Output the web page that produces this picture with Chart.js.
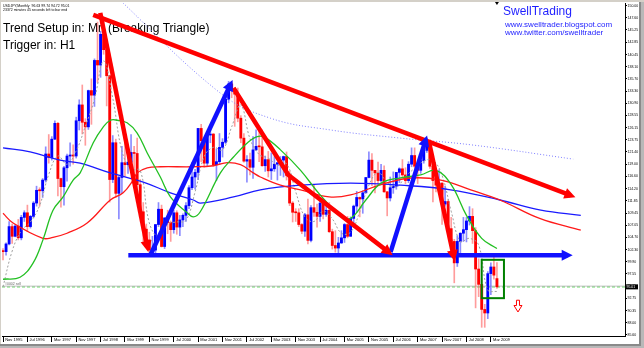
<!DOCTYPE html>
<html>
<head>
<meta charset="utf-8">
<script src="https://cdn.jsdelivr.net/npm/chart.js@4.4.1/dist/chart.umd.min.js"></script>
<style>
  html, body { margin: 0; padding: 0; background: #fff; }
</style>
</head>
<body>
<canvas id="chart" width="644" height="348"></canvas>
<script>
// USDJPY monthly, index 0 = Nov 1995, index 162 = May 2009
const opens = [102.1,101.9,103.4,106.8,104.9,106.9,104.6,108.6,109.5,106.8,108.8,111.4,113.9,113.8,115.9,121.0,120.3,123.9,127.0,116.2,
  114.6,118.3,120.6,120.8,120.6,127.5,130.6,127.2,126.3,133.4,132.5,139.3,138.4,144.4,141.4,136.3,116.0,123.2,113.3,116.4,
  119.3,118.9,119.4,121.3,121.1,115.0,109.7,106.3,104.2,102.2,102.2,107.2,110.2,102.9,108.5,107.6,106.2,109.5,106.7,108.1,
  109.0,110.9,114.4,116.5,117.4,126.0,123.6,119.2,124.7,124.9,118.9,119.5,122.3,123.3,131.7,134.7,133.5,132.7,128.0,124.1,
  119.6,119.9,118.4,121.8,122.5,122.4,118.7,119.9,117.7,118.1,119.0,119.3,119.8,120.5,116.8,111.4,109.6,109.5,107.2,105.9,
  109.1,104.1,110.5,109.6,108.8,111.4,109.2,110.0,105.8,103.1,102.6,103.6,104.6,107.2,104.9,108.4,110.8,112.5,112.2,113.4,
  116.4,119.8,117.8,117.3,115.8,117.8,113.6,112.4,114.4,114.7,117.4,118.1,116.9,115.8,119.0,120.7,118.6,117.8,119.7,121.7,
  123.2,118.6,115.8,114.9,115.3,111.2,111.7,106.4,103.9,99.7,103.9,105.5,106.2,107.9,108.8,106.0,98.5,95.5,90.6,89.9,
  97.6,98.9,96.63];
const highs = [102.5,103.6,107.8,107.3,107.2,108.2,109.0,109.9,111.0,109.0,111.7,114.7,114.4,116.2,122.4,124.8,124.4,127.5,127.2,116.3,
  118.6,121.0,123.2,122.8,128.2,131.6,134.5,127.9,133.5,135.7,139.6,146.8,145.0,147.6,142.4,136.4,124.6,123.9,116.7,122.5,
  123.6,121.0,124.8,122.5,124.1,116.0,111.5,107.3,105.7,104.9,107.2,111.5,111.0,108.5,110.0,107.9,110.0,109.9,109.0,109.3,
  111.5,114.8,119.3,118.0,126.0,126.8,123.9,125.2,126.0,125.0,122.0,125.0,124.0,131.8,135.2,135.1,133.9,133.9,128.5,125.0,
  120.7,121.2,124.4,125.7,125.5,125.7,120.6,121.5,121.2,120.5,119.3,120.5,120.6,121.4,117.6,111.7,110.3,110.3,107.4,109.4,
  112.2,110.9,114.9,111.2,112.4,111.7,111.3,111.5,106.3,106.0,104.7,106.0,107.4,108.8,108.7,111.0,113.7,112.6,113.8,116.4,
  121.4,121.1,117.8,119.4,119.0,118.7,113.7,116.5,117.5,117.4,118.3,119.9,118.3,119.5,122.2,122.2,119.1,120.0,122.2,124.1,
  123.7,119.4,117.3,117.9,115.4,114.7,112.1,108.6,104.3,105.0,105.6,108.6,108.6,110.7,110.3,106.6,100.5,96.6,91.6,98.0,
  99.7,101.4,99.74];
const lows = [100.3,101.2,103.2,103.5,104.8,104.2,104.2,107.8,105.8,106.5,108.5,110.8,110.8,112.5,115.5,119.2,119.8,123.8,112.8,110.6,
  111.0,115.7,118.6,119.0,120.2,125.7,124.9,122.7,125.8,126.8,130.3,135.0,136.0,140.5,130.4,111.6,115.4,112.5,108.3,113.3,
  116.6,117.2,119.0,117.2,113.7,108.9,103.7,103.9,101.3,101.3,101.5,106.8,102.8,102.5,105.4,103.9,105.5,105.3,105.0,106.8,
  107.8,110.3,114.0,114.1,116.0,119.5,118.4,118.6,123.2,118.6,115.8,119.0,120.4,123.0,131.0,132.0,126.4,127.3,123.2,119.4,
  115.5,116.9,116.2,121.7,119.5,118.6,117.6,116.5,116.0,117.6,115.9,116.8,116.5,115.9,110.9,107.7,107.8,106.8,105.4,104.9,
  103.4,103.8,108.8,106.7,107.8,108.3,108.8,105.6,102.4,101.8,101.7,103.5,103.7,104.6,104.9,106.6,109.6,108.7,109.4,113.4,
  116.3,114.8,113.4,115.0,115.5,113.5,108.9,111.8,113.3,114.1,115.4,116.6,115.2,115.4,118.5,118.3,115.2,117.2,119.2,121.3,
  118.2,111.6,113.6,113.9,107.2,110.8,104.9,103.8,95.8,99.0,101.4,103.9,103.8,107.1,103.5,90.9,93.1,87.1,87.1,88.8,
  93.5,96.5,94.72];
const closes = [101.9,103.4,106.8,104.9,106.9,104.6,108.6,109.5,106.8,108.8,111.4,113.9,113.8,115.9,121.0,120.3,123.9,127.0,116.2,114.6,
  118.3,120.6,120.8,120.6,127.5,130.6,127.2,126.3,133.4,132.5,139.3,138.4,144.4,141.4,136.3,116.0,123.2,113.3,116.4,119.3,
  118.9,119.4,121.3,121.1,115.0,109.7,106.3,104.2,102.2,102.2,107.2,110.2,102.9,108.5,107.6,106.2,109.5,106.7,108.1,109.0,
  110.9,114.4,116.5,117.4,126.0,123.6,119.2,124.7,124.9,118.9,119.5,122.3,123.3,131.7,134.7,133.5,132.7,128.0,124.1,119.6,
  119.9,118.4,121.8,122.5,122.4,118.7,119.9,117.7,118.1,119.0,119.3,119.8,120.5,116.8,111.4,109.6,109.5,107.2,105.9,109.1,
  104.1,110.5,109.6,108.8,111.4,109.2,110.0,105.8,103.1,102.6,103.6,104.6,107.2,104.9,108.4,110.8,112.5,112.2,113.4,116.4,
  119.8,117.8,117.3,115.8,117.8,113.6,112.4,114.4,114.7,117.4,118.1,116.9,115.8,119.0,120.7,118.6,117.8,119.7,121.7,123.2,
  118.6,115.8,114.9,115.3,111.2,111.7,106.4,103.9,99.7,103.9,105.5,106.2,107.9,108.8,106.0,98.5,95.5,90.6,89.9,97.6,
  98.9,97.3,95.01];

const tickPos = [0,8,16,24,32,40,48,56,64,72,80,88,96,104,112,120,128,136,144,152,160];
const tickLabels = ['Nov 1995','Jul 1996','Mar 1997','Nov 1997','Jul 1998','Mar 1999','Nov 1999','Jul 2000','Mar 2001','Nov 2001',
  'Jul 2002','Mar 2003','Nov 2003','Jul 2004','Mar 2005','Nov 2005','Jul 2006','Mar 2007','Nov 2007','Jul 2008','Mar 2009'];
const priceTicks = [150.00,147.60,145.25,142.85,140.45,138.10,135.70,133.30,130.90,128.55,126.15,123.75,121.40,119.00,
  116.60,114.20,111.85,109.45,107.05,104.70,102.30,99.90,97.55,95.15,92.75,90.35,88.00,85.60];

// indicator lines: [month index, price]
const greyMA = [[0,95],[3,102],[6,106],[9,107.7],[12,110.9],[15,117],[18,120.6],[21,119],[24,121.6],[27,126.4],[30,131.7],
  [33,139.2],[36,131.9],[39,121.6],[42,118],[45,117.8],[48,107.5],[51,104.8],[54,107.3],[57,107.7],[60,108],[63,113.6],
  [66,120.5],[69,122.3],[72,121.8],[75,126.3],[78,130.6],[81,124],[84,120.9],[87,120.2],[90,118.8],[93,119.1],[96,113.6],
  [99,108.7],[102,107.8],[105,109.8],[108,108.3],[111,105.5],[114,105.7],[117,109.7],[120,114.9],[123,117.4],[126,115.4],
  [129,114.5],[132,116.6],[135,118.2],[138,119.6],[141,119.8],[144,116.8],[147,109.8],[150,103.9],[153,104.5],[156,103.2],
  [159,94.4],[162,94.1]];
const greenMA = [[0,96.5],[5.6,96.9],[9.9,99.7],[13.1,104.2],[16.4,110],[19.7,112.6],[23,115.9],[25.3,117.3],[29.6,123.2],
  [32.9,126.3],[35.2,127.6],[37.5,127.6],[40.7,127.1],[44,125.1],[47.3,121.2],[51.6,116.5],[54.9,112.6],[60.4,109.5],
  [62.4,108.7],[64.7,109.7],[71.3,117.3],[75.6,120.4],[80.2,123.2],[83.4,124.4],[86,124.2],[91,121.8],[97.6,117.8],
  [104,113],[110.7,109],[114,108.4],[119,112],[124,115.3],[130,116.3],[137,116.9],[142,117.8],[147,115],[152,109],
  [157,104.5],[162,102.5]];
const redMA = [[0,109.4],[3.3,107.5],[13.1,104.5],[16.4,104.7],[21,105.5],[27.6,107.5],[35.2,112],[39.4,113.4],[42.7,115.9],
  [44,117.3],[47.3,118.3],[51.6,118.5],[62.4,118.5],[69,118.7],[73.6,119.3],[77.9,118.9],[82.1,117.3],[84.4,116.5],
  [91,114.9],[97.6,114],[107,112.6],[114,113],[124,115],[133.7,116.3],[143.6,115.9],[153.4,114],[163,112],[176,108.4],
  [189.5,106.1]];
const blueMA = [[0,122.2],[8.9,121.4],[18.7,119.8],[25.3,119.2],[35.2,117.3],[46,115.5],[54.9,113.4],[62.4,112],[64.7,111.4],
  [75.6,112.6],[84.4,114],[97.6,114.9],[114,115.3],[130.4,114.9],[146.8,114],[163,112],[176.4,110],[189.5,109]];
const longMA = [[35,153],[71.3,132.9],[87.7,128],[107.4,125.7],[130.4,124.1],[153.4,122.8],[187,120]];

// drawn pattern: [month index, price]
const redTop = [[29.6,148.2],[186.2,112.9]];
const redLeg1 = [[31.9,148.6],[47.3,102.8]];
const blueLeg1 = [[48.3,101.2],[74.6,134.6]];
const redLeg2 = [[75.6,133.9],[93.6,116.9],[126.5,101.8]];
const blueLeg2 = [[127.1,101.8],[138.6,123.7]];
const redLeg3 = [[139.6,123.7],[147.8,101.0]];
const blueBase = [[41.1,101.2],[185.2,101.2]];
const boxRange = [157, 164.3, 100.3, 92.8];
const sellArrow = [168.9, 92.4, 90.1];
const bidPrice = 95.01;
const orderPrice = 95.15;

const BULL = '#0000ff', BEAR = '#ff0000';
const idx = closes.map((c, i) => i);
const pts = a => a.map(([x, y]) => ({ x, y }));
const xMin = -0.33, xMax = 204.0;

function arrowSet(data, color) {
  return { type: 'line', data: pts(data), borderColor: color, borderWidth: 4.5, pointRadius: 0,
    tension: 0, borderJoinStyle: 'round', arrow: true, order: 0 };
}
function maSet(data, color, width, dash) {
  return { type: 'line', data: pts(data), borderColor: color, borderWidth: width, borderDash: dash || [],
    pointRadius: 0, tension: 0.4, order: 2 };
}

const decor = {
  id: 'decor',
  beforeDraw(chart) {
    const { ctx } = chart;
    ctx.save();
    ctx.fillStyle = '#fff';
    ctx.fillRect(0, 0, 644, 348);
    ctx.fillStyle = '#d4d0c8';
    ctx.fillRect(0, 0, 644, 2);
    ctx.fillRect(0, 0, 1, 348);
    ctx.fillStyle = '#8a8a8a';
    ctx.fillRect(639, 2, 5, 346);
    ctx.fillRect(0, 344, 644, 4);
    ctx.fillStyle = '#b8b8b8';
    ctx.fillRect(641, 2, 3, 346);
    ctx.fillRect(0, 346, 644, 2);
    ctx.restore();
  },
  beforeDatasetsDraw(chart) {
    const { ctx } = chart;
    ctx.save();
    ctx.fillStyle = '#000';
    ctx.font = '3.5px "Liberation Sans"';
    ctx.fillText('USDJPY,Monthly  96.63 99.74 94.72 95.01', 3, 7);
    ctx.fillText('23372 minutes 45 seconds left to bar end', 3, 11);
    ctx.font = '12px "Liberation Sans"';
    ctx.fillText('Trend Setup in: Mn (Breaking Triangle)', 3, 31.7);
    ctx.fillText('Trigger in: H1', 3, 49.3);
    ctx.fillStyle = '#1e1eff';
    ctx.fillText('SwellTrading', 503, 14.6);
    ctx.font = '8px "Liberation Sans"';
    ctx.fillText('www.swelltrader.blogspot.com', 505, 26.5);
    ctx.fillText('www.twitter.com/swelltrader', 505, 34.7);
    const y = chart.scales.y.getPixelForValue(orderPrice);
    ctx.fillStyle = '#666';
    ctx.font = '3.5px "Liberation Sans"';
    ctx.fillText('#0002 sell', 5, y - 1);
    ctx.restore();
  },
  afterDatasetsDraw(chart) {
    const { ctx, scales: { x, y } } = chart;
    ctx.save();
    chart.data.datasets.forEach((ds, k) => {
      if (!ds.arrow) return;
      const el = chart.getDatasetMeta(k).data;
      const a = el[el.length - 2], b = el[el.length - 1];
      ctx.save();
      ctx.translate(b.x, b.y);
      ctx.rotate(Math.atan2(b.y - a.y, b.x - a.x));
      ctx.fillStyle = ds.borderColor;
      ctx.beginPath();
      ctx.moveTo(5, 0); ctx.lineTo(-6, -5.5); ctx.lineTo(-6, 5.5);
      ctx.closePath(); ctx.fill();
      ctx.restore();
    });
    // setup box
    const [i0, i1, p0, p1] = boxRange;
    ctx.strokeStyle = '#008000';
    ctx.lineWidth = 2;
    ctx.strokeRect(x.getPixelForValue(i0), y.getPixelForValue(p0),
      x.getPixelForValue(i1) - x.getPixelForValue(i0), y.getPixelForValue(p1) - y.getPixelForValue(p0));
    // hollow sell arrow
    const ax = x.getPixelForValue(sellArrow[0]);
    const t = y.getPixelForValue(sellArrow[1]), bt = y.getPixelForValue(sellArrow[2]);
    const m = t + (bt - t) * 0.45;
    ctx.strokeStyle = '#ff0000';
    ctx.lineWidth = 1;
    ctx.beginPath();
    ctx.moveTo(ax - 1.5, t); ctx.lineTo(ax + 1.5, t); ctx.lineTo(ax + 1.5, m); ctx.lineTo(ax + 4, m);
    ctx.lineTo(ax, bt); ctx.lineTo(ax - 4, m); ctx.lineTo(ax - 1.5, m); ctx.closePath();
    ctx.stroke();
    // last bar marker
    const lx = x.getPixelForValue(idx[idx.length - 1]);
    ctx.fillStyle = '#000';
    ctx.beginPath();
    ctx.moveTo(lx - 2, 2); ctx.lineTo(lx + 2, 2); ctx.lineTo(lx, 5); ctx.closePath(); ctx.fill();
    ctx.restore();
  },
  afterDraw(chart) {
    const { ctx, scales: { y } } = chart;
    const py = y.getPixelForValue(bidPrice);
    ctx.save();
    ctx.fillStyle = '#000';
    ctx.fillRect(625, py - 2.5, 13, 5);
    ctx.fillStyle = '#fff';
    ctx.font = '3.5px "Liberation Sans"';
    ctx.textBaseline = 'middle';
    ctx.fillText(bidPrice.toFixed(2), 626.5, py);
    ctx.restore();
  }
};

new Chart(document.getElementById('chart'), {
  type: 'bar',
  data: {
    datasets: [
      arrowSet(redTop, '#ff0000'),
      arrowSet(redLeg1, '#ff0000'),
      arrowSet(blueLeg1, '#1010ff'),
      arrowSet(redLeg2, '#ff0000'),
      arrowSet(blueLeg2, '#1010ff'),
      arrowSet(redLeg3, '#ff0000'),
      arrowSet(blueBase, '#1010ff'),
      maSet(greenMA, '#22c022', 1.3),
      maSet(redMA, '#ff1a1a', 1.3),
      maSet(blueMA, '#1a1aff', 1.3),
      maSet(greyMA, '#a0a0a0', 1, [2, 2]),
      maSet(longMA, '#8080ff', 1, [1, 2]),
      { type: 'bar', data: idx.map(i => ({ x: i, y: [opens[i], closes[i]] })),
        backgroundColor: idx.map(i => closes[i] >= opens[i] ? BULL : BEAR),
        barThickness: 2.2, minBarLength: 1, grouped: false, order: 3 },
      { type: 'bar', data: idx.map(i => ({ x: i, y: [lows[i], highs[i]] })),
        backgroundColor: idx.map(i => closes[i] >= opens[i] ? 'rgba(90,90,255,0.7)' : 'rgba(255,90,90,0.6)'),
        barThickness: 1, grouped: false, order: 4 },
      { type: 'line', data: [{ x: xMin, y: orderPrice }, { x: xMax, y: orderPrice }], borderColor: '#c0c0c0',
        borderWidth: 1, pointRadius: 0, order: 5 },
      { type: 'line', data: [{ x: xMin, y: bidPrice }, { x: xMax, y: bidPrice }], borderColor: '#33cc33',
        borderWidth: 1, borderDash: [3, 2], pointRadius: 0, order: 5 }
    ]
  },
  options: {
    responsive: false,
    animation: false,
    events: [],
    layout: { padding: { left: 2, right: 4, top: 3, bottom: 3 } },
    plugins: { legend: { display: false }, tooltip: { enabled: false } },
    scales: {
      x: {
        type: 'linear', min: xMin, max: xMax, offset: false,
        grid: { drawOnChartArea: false, offset: false, tickLength: 6, color: '#000', lineWidth: 1 },
        border: { display: true, color: '#000', width: 1 },
        afterBuildTicks: s => { s.ticks = tickPos.map(v => ({ value: v })); },
        afterFit: s => { s.height = 9; },
        ticks: { autoSkip: false, maxRotation: 0, minRotation: 0, align: 'start', padding: -5,
          color: '#000', font: { family: 'Liberation Sans', size: 4 },
          callback: (v, k) => '  ' + tickLabels[k] }
      },
      y: {
        type: 'linear', position: 'right', min: 85.4, max: 150.53,
        grid: { drawOnChartArea: false, tickLength: 2, color: '#000' },
        border: { display: true, color: '#000', width: 1 },
        afterBuildTicks: s => { s.ticks = priceTicks.map(v => ({ value: v })); },
        afterFit: s => { s.width = 15; },
        ticks: { autoSkip: false, padding: 0.5, color: '#000', font: { family: 'Liberation Sans', size: 3.5 },
          callback: v => v.toFixed(2) }
      }
    }
  },
  plugins: [decor]
});
</script>
</body>
</html>
